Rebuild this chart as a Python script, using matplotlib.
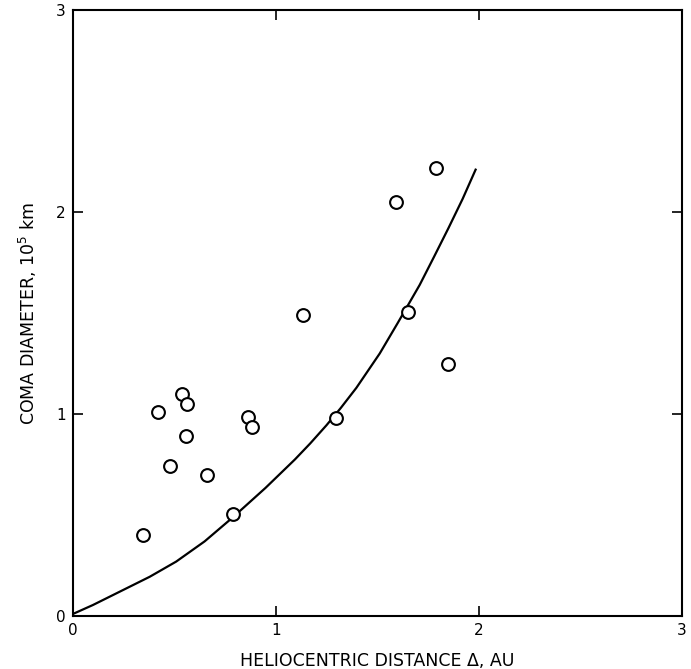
import numpy as np
import matplotlib
matplotlib.use('Agg')
import matplotlib.pyplot as plt

# Observed comets: heliocentric distance (AU) vs coma diameter (1e5 km)
dist = [0.345, 0.42, 0.478, 0.537, 0.562, 0.557, 0.66, 0.79, 0.862, 0.882,
        1.133, 1.296, 1.59, 1.65, 1.79, 1.85]
diam = [0.40, 1.01, 0.745, 1.10, 1.05, 0.89, 0.70, 0.505, 0.985, 0.935,
        1.49, 0.98, 2.05, 1.505, 2.22, 1.25]

curve_x = [0.0, 0.1, 0.25, 0.38, 0.51, 0.65, 0.79, 0.95, 1.094, 1.17, 1.25,
           1.32, 1.397, 1.512, 1.6, 1.709, 1.78, 1.85, 1.92, 1.984]
curve_y = [0.01, 0.055, 0.13, 0.195, 0.27, 0.37, 0.49, 0.635, 0.775, 0.855,
           0.945, 1.03, 1.13, 1.30, 1.45, 1.64, 1.78, 1.92, 2.065, 2.21]

plt.rcParams['mathtext.default'] = 'regular'
plt.rcParams['font.family'] = 'DejaVu Sans'

fig = plt.figure(figsize=(6.91, 6.69), dpi=100)
ax = fig.add_axes([0.105, 0.079, 0.882, 0.906])

ax.plot(curve_x, curve_y, color='black', linewidth=1.6)
ax.plot(dist, diam, linestyle='', marker='o', markersize=9.2,
        markerfacecolor='white', markeredgecolor='black', markeredgewidth=1.5)

ax.set_xlim(0, 3)
ax.set_ylim(0, 3)
ax.set_xticks([0, 1, 2, 3])
ax.set_yticks([0, 1, 2, 3])
ax.tick_params(direction='in', length=7, width=1.2, top=True, right=True,
               labelsize=11, pad=5)
for s in ax.spines.values():
    s.set_linewidth(1.5)

ax.set_xlabel('HELIOCENTRIC DISTANCE \u0394, AU', fontsize=12.5, labelpad=10)
ax.set_ylabel('COMA DIAMETER, $10^5$ km', fontsize=12.5, labelpad=12)

plt.savefig('out.png', dpi=100)
plt.close()
